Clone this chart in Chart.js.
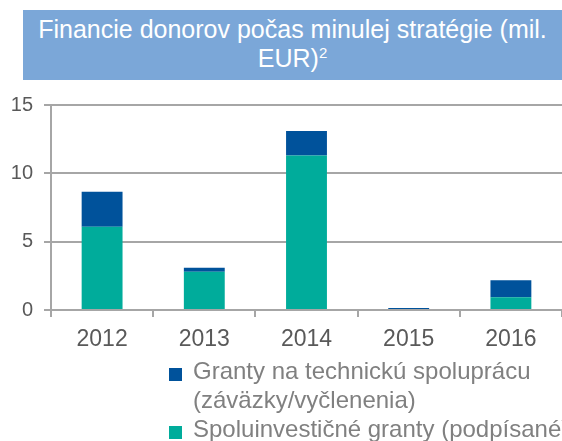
<!DOCTYPE html>
<html>
<head>
<meta charset="utf-8">
<script src="https://cdn.jsdelivr.net/npm/chart.js@4.4.1/dist/chart.umd.min.js"></script>
<style>
  html, body { margin: 0; padding: 0; background: #fff; }
  #wrap { position: relative; width: 562px; height: 441px; overflow: hidden; }
  #title { position: absolute; left: 23px; top: 10px; width: 560px; height: 70px; background: #7BA7D8; color: #fff;
           font-family: "Liberation Sans", Arial, sans-serif; font-size: 25px; }
  #title .l { position: absolute; left: 0; width: 539px; text-align: center; white-space: nowrap; line-height: 29px; }
  #title sup { font-size: 15px; vertical-align: 9px; line-height: 0; }
  canvas { position: absolute; left: 0; top: 0; }
  .leg { position: absolute; left: 193px; font-family: "Liberation Sans", Arial, sans-serif; font-size: 24px; color: #808080; white-space: nowrap; line-height: 29px; }
  .sw { position: absolute; width: 13px; height: 13px; }
</style>
</head>
<body>
<div id="wrap">
  <canvas id="c" width="562" height="441"></canvas>
  <div id="title"><div class="l" style="top:5px">Financie donorov počas minulej stratégie (mil.</div><div class="l" style="top:34px">EUR)<sup>2</sup></div></div>
  <div id="legend"></div>
</div>
<script>
const categories = ["2012", "2013", "2014", "2015", "2016"];
const seriesNames = ["Granty na technickú spoluprácu (záväzky/vyčlenenia)", "Spoluinvestičné granty (podpísané)"];
const technicalGrants = [2.55, 0.3, 1.8, 0.15, 1.24];
const coInvestmentGrants = [6.1, 2.8, 11.3, 0, 0.93];
const yTicks = [0, 5, 10, 15];
const colors = ["#00529B", "#00AC9B"];

// HTML legend (wrapped text like the reference)
const legendLines = [
  ["Granty na technickú spoluprácu", "(záväzky/vyčlenenia)"],
  ["Spoluinvestičné granty (podpísané)"]
];
const legendEl = document.getElementById('legend');
let legTop = 356;
legendLines.forEach((lines, i) => {
  const sw = document.createElement('div');
  sw.className = 'sw';
  sw.style.left = '169px';
  sw.style.top = (legTop + 12) + 'px';
  sw.style.background = colors[i];
  legendEl.appendChild(sw);
  lines.forEach(t => {
    const d = document.createElement('div');
    d.className = 'leg';
    d.style.top = legTop + 'px';
    d.textContent = t;
    legendEl.appendChild(d);
    legTop += 29;
  });
});

const gridColor = '#A6A6A6';
new Chart(document.getElementById('c'), {
  type: 'bar',
  data: {
    labels: categories,
    datasets: [
      { label: seriesNames[1], data: coInvestmentGrants, backgroundColor: colors[1], borderWidth: 0 },
      { label: seriesNames[0], data: technicalGrants, backgroundColor: colors[0], borderWidth: 0 }
    ]
  },
  options: {
    responsive: false,
    animation: false,
    devicePixelRatio: 1,
    layout: { padding: { top: 105, right: 0, left: 0, bottom: 0 } },
    plugins: { legend: { display: false }, tooltip: { enabled: false }, title: { display: false } },
    datasets: { bar: { categoryPercentage: 1, barPercentage: 0.4 } },
    scales: {
      x: {
        stacked: true,
        grid: { drawOnChartArea: false, drawTicks: true, tickLength: 7, color: gridColor, lineWidth: 2 },
        border: { display: true, color: gridColor, width: 2 },
        ticks: { color: '#595959', font: { family: 'Liberation Sans, Arial, sans-serif', size: 23 }, padding: 9 },
        afterFit: s => { s.height = 131; }
      },
      y: {
        stacked: true,
        min: 0, max: 15,
        afterBuildTicks: s => { s.ticks = yTicks.map(v => ({ value: v })); },
        grid: { color: gridColor, lineWidth: 2, drawTicks: true, tickLength: 7 },
        border: { display: true, color: gridColor, width: 2 },
        ticks: { color: '#595959', font: { family: 'Liberation Sans, Arial, sans-serif', size: 20 }, padding: 11 },
        afterFit: s => { s.width = 51; }
      }
    }
  }
});
</script>
</body>
</html>
